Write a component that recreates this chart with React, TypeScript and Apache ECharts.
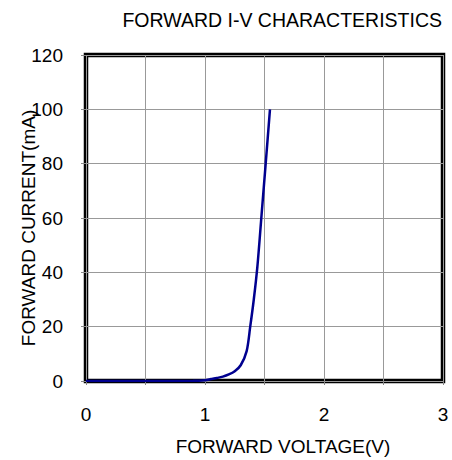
import React, { useEffect, useRef } from "react";
import * as echarts from "echarts";

const voltage = [0, 0.5, 0.9, 1.0, 1.05, 1.1, 1.15, 1.2, 1.25, 1.3, 1.35, 1.38, 1.41, 1.44, 1.475, 1.51, 1.546];
const current = [0, 0, 0.05, 0.3, 0.7, 1.1, 1.6, 2.4, 3.6, 5.8, 11, 20, 30, 42, 61, 80, 100];
const titleText = "FORWARD I-V CHARACTERISTICS";
const xName = "FORWARD VOLTAGE(V)";
const yName = "FORWARD CURRENT(mA)";

const FONT = "'Liberation Sans', Arial, sans-serif";
const FS = 19;

export default function App() {
  const ref = useRef<HTMLDivElement>(null);
  useEffect(() => {
    const chart = echarts.init(ref.current!, null, { renderer: "svg" });
    const data = voltage.map((v, i) => [v, current[i]]);
    chart.setOption({
      animation: false,
      backgroundColor: "#fff",
      title: {
        text: titleText,
        right: 5,
        top: 5,
        textStyle: { fontSize: 19.5, fontWeight: "normal", color: "#000", fontFamily: FONT },
      },
      grid: {
        left: 86,
        right: 9,
        top: 55,
        bottom: 79,
        show: true,
        borderWidth: 4.5,
        borderColor: "#000",
        backgroundColor: "transparent",
      },
      xAxis: {
        type: "value",
        min: 0,
        max: 3,
        interval: 0.5,
        axisLine: { show: false },
        axisTick: { show: true, length: 4, lineStyle: { color: "#888" } },
        splitLine: { show: true, lineStyle: { color: "#999", width: 1 } },
        axisLabel: {
          margin: 24,
          fontSize: FS,
          color: "#000",
          fontFamily: FONT,
          formatter: (v: number) => (Number.isInteger(v) ? String(v) : ""),
        },
      },
      yAxis: {
        type: "value",
        min: 0,
        max: 120,
        interval: 20,
        axisLine: { show: false },
        axisTick: { show: true, length: 5, lineStyle: { color: "#888" } },
        splitLine: { show: true, lineStyle: { color: "#999", width: 1 } },
        axisLabel: { margin: 23, fontSize: FS, color: "#000", fontFamily: FONT },
      },
      graphic: [
        {
          type: "text",
          x: 283,
          y: 446,
          style: {
            text: xName,
            fontSize: FS,
            fill: "#000",
            fontFamily: FONT,
            textAlign: "center",
            textVerticalAlign: "middle",
          },
        },
        {
          type: "text",
          x: 28,
          y: 228,
          rotation: Math.PI / 2,
          style: {
            text: yName,
            fontSize: FS,
            fill: "#000",
            fontFamily: FONT,
            textAlign: "center",
            textVerticalAlign: "middle",
          },
        },
      ],
      series: [
        {
          type: "line",
          data,
          smooth: 0.3,
          showSymbol: false,
          lineStyle: { color: "#00008f", width: 2.5 },
          z: 10,
        },
      ],
    });
    return () => chart.dispose();
  }, []);
  return <div ref={ref} style={{ width: 452, height: 460, position: "absolute", left: 0, top: 0 }} />;
}
